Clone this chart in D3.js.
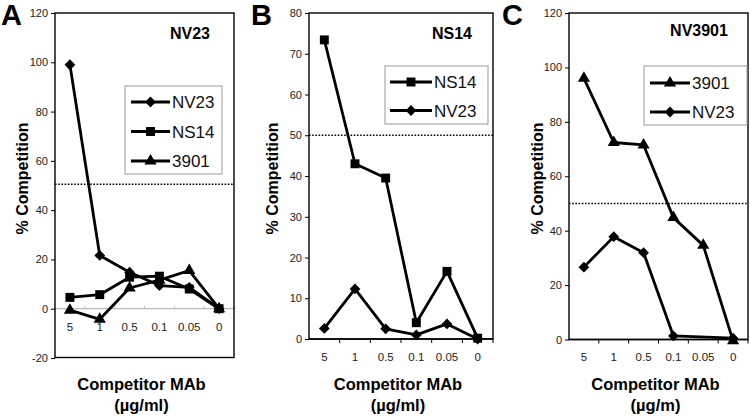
<!DOCTYPE html>
<html><head><meta charset="utf-8">
<script src="https://cdn.jsdelivr.net/npm/d3@7"></script>
<style>
body{margin:0;background:#fff}
svg{display:block;font-family:"Liberation Sans",Arial,Helvetica,sans-serif}
</style>
</head><body>
<svg id="chart" width="750" height="416"></svg>
<script>
// ---------- data ----------
const categories = ["5", "1", "0.5", "0.1", "0.05", "0"];

const panelA_NV23 = [99, 21.6, 14.8, 9.4, 8.7, 0];
const panelA_NS14 = [4.6, 5.7, 12.8, 13.2, 8.0, 0];
const panelA_3901 = [-0.6, -4.3, 8.4, 11.6, 15.5, 0];
const panelA_ticks = [-20, 0, 20, 40, 60, 80, 100, 120];

const panelB_NS14 = [73.4, 43.0, 39.5, 4.0, 16.6, 0.2];
const panelB_NV23 = [2.6, 12.3, 2.5, 1.0, 3.7, 0];
const panelB_ticks = [0, 10, 20, 30, 40, 50, 60, 70, 80];

const panelC_3901 = [96, 72.4, 71.5, 44.8, 34.6, -0.5];
const panelC_NV23 = [26.6, 37.8, 31.9, 1.3, null, 0.5];
const panelC_ticks = [0, 20, 40, 60, 80, 100, 120];

const thresholdValue = 50.5;

// ---------- drawing ----------
const svg = d3.select("#chart");

const shapes = {
  diamond: d3.symbol().type(d3.symbolSquare).size(58),
  square: d3.symbol().type(d3.symbolSquare).size(80),
  triangle: d3.symbol().type(d3.symbolTriangle).size(64)
};
const rot = { diamond: 45, square: 0, triangle: 0 };

function marker(sel, shape, cx, cy) {
  sel.append("path")
    .attr("d", shapes[shape]())
    .attr("transform", `translate(${cx},${cy}) rotate(${rot[shape]})`)
    .attr("fill", "#000");
}

function drawPanel(p) {
  const g = svg.append("g");
  const x = d3.scalePoint().domain(categories).range([p.left, p.right]).padding(0.5);
  const band = d3.scaleBand().domain(categories).range([p.left, p.right]);
  const y = d3.scaleLinear().domain(p.yDomain).range([p.bottom, p.top]);

  // y axis ticks + labels
  const ya = g.append("g").attr("transform", `translate(${p.left},0)`)
    .call(d3.axisLeft(y).tickValues(p.yTicks).tickSize(4).tickPadding(3).tickFormat(d => String(d)));
  ya.select(".domain").remove();
  ya.selectAll("text").attr("font-size", 11).attr("fill", "#222").attr("font-family", "Liberation Sans, Arial, sans-serif");
  ya.selectAll("line").attr("stroke", "#000");

  // zero axis line
  const y0 = y(0);
  g.append("line").attr("x1", p.left).attr("x2", p.right).attr("y1", y0).attr("y2", y0)
    .attr("stroke", p.zeroColor).attr("stroke-width", p.zeroColor === "#000" ? 1.3 : 1.2);
  // category boundary ticks
  categories.slice(1).concat(["__end"]).forEach((c) => {
    const bx = c === "__end" ? p.right : band(c);
    g.append("line").attr("x1", bx).attr("x2", bx)
      .attr("y1", y0).attr("y2", p.zeroColor === "#000" ? y0 + 4 : y0 - 3)
      .attr("stroke", p.zeroColor).attr("stroke-width", 1);
  });
  // category labels
  g.selectAll("text.cat").data(categories).enter().append("text")
    .attr("class", "cat")
    .attr("x", d => x(d)).attr("y", p.labelY)
    .attr("text-anchor", "middle").attr("font-size", 11.5).attr("fill", "#222")
    .text(d => d);

  // threshold dotted line
  g.append("line").attr("x1", p.left).attr("x2", p.right)
    .attr("y1", y(p.threshold)).attr("y2", y(p.threshold))
    .attr("stroke", "#000").attr("stroke-width", 1.6).attr("stroke-dasharray", "1.6,1.6");

  // series
  const line = d3.line().x(d => x(d.c)).y(d => y(d.v));
  p.series.forEach(s => {
    const pts = categories.map((c, i) => ({ c, v: s.values[i] })).filter(d => d.v != null);
    g.append("path").datum(pts).attr("d", line)
      .attr("fill", "none").attr("stroke", "#000").attr("stroke-width", 2.8)
      .attr("stroke-linejoin", "round");
    pts.forEach(d => marker(g, s.shape, x(d.c), y(d.v)));
  });

  // box
  g.append("rect").attr("x", p.left).attr("y", p.top)
    .attr("width", p.right - p.left).attr("height", p.boxBottom - p.top)
    .attr("fill", "none").attr("stroke", "#000").attr("stroke-width", 1.4);

  // legend
  const L = p.legend;
  g.append("rect").attr("x", L.x).attr("y", L.y).attr("width", L.w).attr("height", L.h)
    .attr("fill", "#fff").attr("stroke", "#999").attr("stroke-width", 1);
  p.series.forEach((s, i) => {
    const ly = L.firstY + i * L.step;
    g.append("line").attr("x1", L.lx1).attr("x2", L.lx2).attr("y1", ly).attr("y2", ly)
      .attr("stroke", "#000").attr("stroke-width", 2.8);
    marker(g, s.shape, (L.lx1 + L.lx2) / 2, ly);
    g.append("text").attr("x", L.lx2 + 2).attr("y", ly + 6)
      .attr("font-size", 17).attr("fill", "#111").text(s.name);
  });

  // title inside plot
  g.append("text").attr("x", p.titleX).attr("y", p.titleY).attr("text-anchor", "middle")
    .attr("font-size", 16).attr("font-weight", "bold").text(p.title);

  // panel letter
  g.append("text").attr("x", p.letterX).attr("y", 25)
    .attr("font-size", 29).attr("font-weight", "bold").text(p.letter);

  // y axis title
  const cyT = 178.5;
  g.append("text")
    .attr("transform", `translate(${p.yTitleX},${cyT}) rotate(-90)`)
    .attr("text-anchor", "middle").attr("font-size", 16).attr("font-weight", "bold")
    .text("% Competition");

  // x axis title
  const cx = (p.left + p.right) / 2 - 3;
  g.append("text").attr("x", cx).attr("y", 390).attr("text-anchor", "middle")
    .attr("font-size", 16.5).attr("font-weight", "bold").text("Competitor MAb");
  g.append("text").attr("x", cx).attr("y", 411).attr("text-anchor", "middle")
    .attr("font-size", 16.5).attr("font-weight", "bold").text(p.unit);
}

drawPanel({
  letter: "A", letterX: 1, title: "NV23", titleX: 190, titleY: 39,
  left: 55, right: 234, top: 13, bottom: 358, boxBottom: 357.5,
  yDomain: [-20, 120], yTicks: panelA_ticks, zeroColor: "#bbb", labelY: 331,
  threshold: thresholdValue, yTitleX: 28, unit: "(µg/ml)",
  series: [
    { name: "NV23", shape: "diamond", values: panelA_NV23 },
    { name: "NS14", shape: "square", values: panelA_NS14 },
    { name: "3901", shape: "triangle", values: panelA_3901 }
  ],
  legend: { x: 125, y: 86, w: 97, h: 88, firstY: 102, step: 29.5, lx1: 131, lx2: 170 }
});

drawPanel({
  letter: "B", letterX: 251, title: "NS14", titleX: 452, titleY: 39,
  left: 309, right: 493, top: 13, bottom: 339, boxBottom: 339,
  yDomain: [0, 80], yTicks: panelB_ticks, zeroColor: "#000", labelY: 361,
  threshold: 50, yTitleX: 278, unit: "(µg/ml)",
  series: [
    { name: "NS14", shape: "square", values: panelB_NS14 },
    { name: "NV23", shape: "diamond", values: panelB_NV23 }
  ],
  legend: { x: 385, y: 66, w: 103, h: 58, firstY: 82, step: 28.5, lx1: 390, lx2: 432 }
});

drawPanel({
  letter: "C", letterX: 502, title: "NV3901", titleX: 699, titleY: 36,
  left: 569, right: 748, top: 13, bottom: 339.5, boxBottom: 339.5,
  yDomain: [0, 120], yTicks: panelC_ticks, zeroColor: "#000", labelY: 361,
  threshold: 50, yTitleX: 543, unit: "(µg/m)",
  series: [
    { name: "3901", shape: "triangle", values: panelC_3901 },
    { name: "NV23", shape: "diamond", values: panelC_NV23 }
  ],
  legend: { x: 644, y: 66, w: 103, h: 59, firstY: 83, step: 29, lx1: 650, lx2: 690 }
});
</script>
</body></html>
